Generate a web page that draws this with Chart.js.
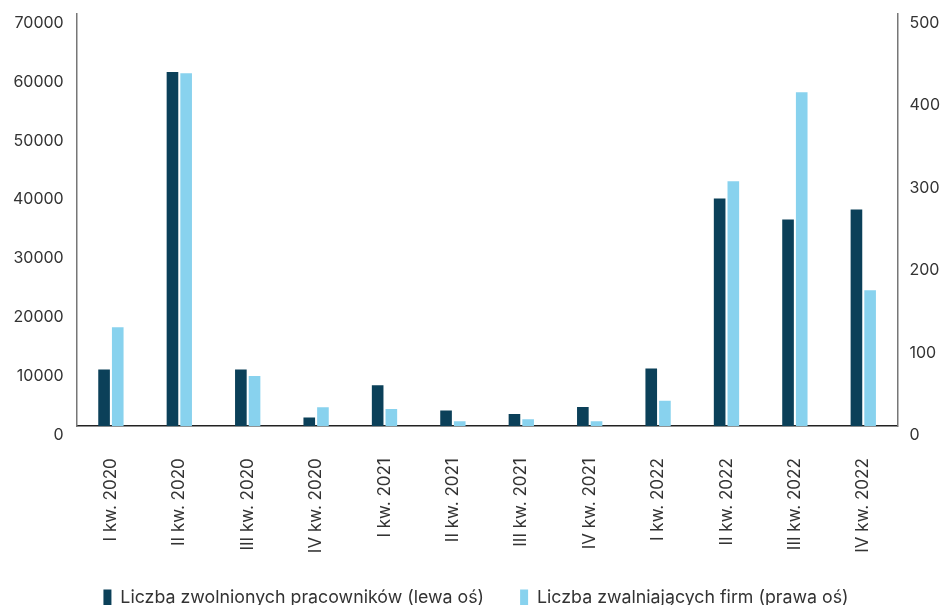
<!DOCTYPE html>
<html>
<head>
<meta charset="utf-8">
<script src="https://cdn.jsdelivr.net/npm/chart.js@4.4.1/dist/chart.umd.min.js"></script>
<style>
  html, body { margin: 0; padding: 0; background: #fff; overflow: hidden; }
  #wrap { width: 943px; height: 617px; position: relative; }
</style>
</head>
<body>
<div id="wrap"><canvas id="myChart"></canvas></div>
<script>
const quarters = [
  "I kw. 2020", "II kw. 2020", "III kw. 2020", "IV kw. 2020",
  "I kw. 2021", "II kw. 2021", "III kw. 2021", "IV kw. 2021",
  "I kw. 2022", "II kw. 2022", "III kw. 2022", "IV kw. 2022"
]
// zwolnieni pracownicy (lewa oś)
const workers = [9650, 60150, 9630, 1480, 6970, 2670, 2090, 3280, 9800, 38680, 35120, 36810]
// firmy zwalniające (prawa oś)
const firms = [120, 428, 61, 23, 21, 6, 8.5, 6, 31, 297, 405, 165]

const leftTicks = [0, 10000, 20000, 30000, 40000, 50000, 60000, 70000]
const rightTicks = [0, 100, 200, 300, 400, 500]

Chart.defaults.font.family = "Inter, 'Noto Sans', sans-serif"
Chart.defaults.font.size = 16
Chart.defaults.color = "#333"

const plain = v => String(v)
// labels sit below their tick, so no extra room is needed above/below the axis
const noPad = axis => { axis.paddingTop = 0; axis.paddingBottom = 0 }

const ctx = document.getElementById('myChart')
new Chart(ctx, {
  type: "bar",
  data: {
    labels: quarters,
    datasets: [{
      label: "Liczba zwolnionych pracowników (lewa oś)",
      data: workers,
      backgroundColor: "#0b4059",
      yAxisID: "y",
      categoryPercentage: 0.4,
      barPercentage: 0.85
    }, {
      label: "Liczba zwalniających firm (prawa oś)",
      data: firms,
      backgroundColor: "#88d2ee",
      yAxisID: "y1",
      categoryPercentage: 0.4,
      barPercentage: 0.85
    }]
  },
  options: {
    responsive: true,
    maintainAspectRatio: false,
    animation: false,
    layout: { padding: { top: 14, left: 0, right: -9, bottom: 0 } },
    plugins: {
      tooltip: { enabled: false },
      legend: {
        position: "bottom",
        labels: {
          boxWidth: 8,
          boxHeight: 17,
          padding: 36,
          color: "#333",
          font: { size: 17.8 }
        }
      }
    },
    scales: {
      x: {
        grid: { display: false, drawTicks: false },
        border: { color: "#222", width: 1.5 },
        afterFit: axis => { axis.height = 127 },
        ticks: {
          autoSkip: false,
          maxRotation: 90,
          minRotation: 90,
          padding: 32,
          font: { size: 17 }
        }
      },
      y: {
        position: "left",
        min: 0,
        max: 70000,
        afterBuildTicks: axis => { axis.ticks = leftTicks.map(v => ({ value: v })) },
        afterFit: noPad,
        grid: { display: false, drawTicks: false },
        border: { color: "#777", width: 1.5 },
        ticks: { padding: 13, labelOffset: 9, callback: plain }
      },
      y1: {
        position: "right",
        min: 0,
        max: 500,
        afterBuildTicks: axis => { axis.ticks = rightTicks.map(v => ({ value: v })) },
        afterFit: noPad,
        grid: { display: false, drawTicks: false },
        border: { color: "#777", width: 1.5 },
        ticks: { padding: 12, labelOffset: 9, callback: plain }
      }
    }
  }
});
</script>
</body>
</html>
